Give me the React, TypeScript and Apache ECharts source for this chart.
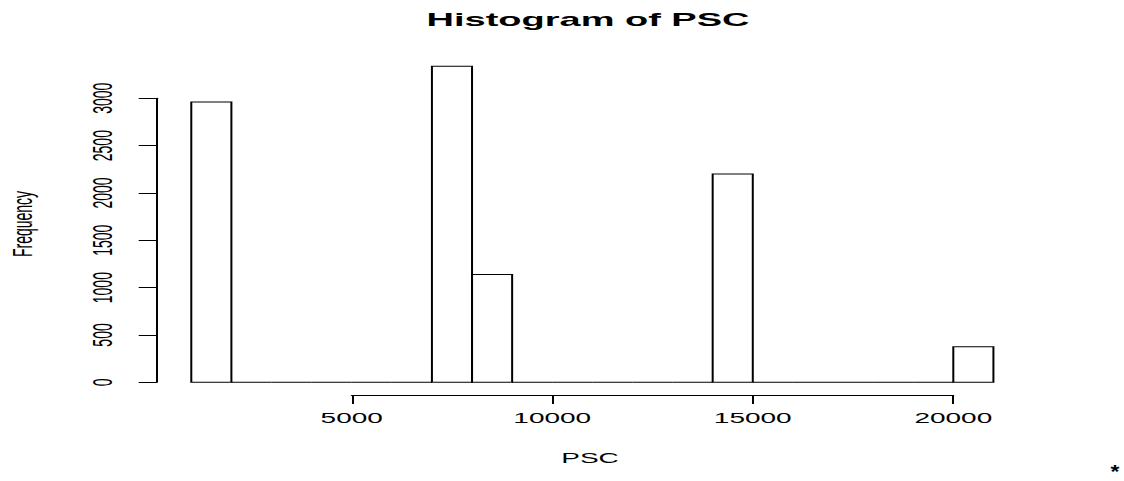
import React, { useEffect, useRef } from "react";
import * as echarts from "echarts";

// Histogram bin breaks (PSC) and counts per bin
const breaks = [1000, 2000, 3000, 4000, 5000, 6000, 7000, 8000, 9000, 10000, 11000, 12000, 13000, 14000, 15000, 16000, 17000, 18000, 19000, 20000, 21000];
const counts = [2960, 0, 0, 0, 0, 0, 3340, 1140, 0, 0, 0, 0, 0, 2200, 0, 0, 0, 0, 0, 375];
const xTicks = [5000, 10000, 15000, 20000];
const yTicks = [0, 500, 1000, 1500, 2000, 2500, 3000];
const titleText = "Histogram of PSC";
const xLabel = "PSC";
const yLabel = "Frequency";

const FONT = "'Liberation Sans', Arial, Helvetica, sans-serif";

export default function App() {
  const ref = useRef<HTMLDivElement>(null);
  useEffect(() => {
    if (!ref.current) return;
    const chart = echarts.init(ref.current, null, { renderer: "svg" });
    const maxCount = Math.max(...counts);
    const yPad = maxCount * 0.04;
    const xr = breaks[breaks.length - 1] - breaks[0];
    const xPad = xr * 0.04;
    const binData = counts.map((c, i) => [breaks[i], breaks[i + 1], c]);

    const option: any = {
      animation: false,
      backgroundColor: "#fff",
      grid: [
        { left: 79.6, right: 49.25, top: 53.5, bottom: 86 },
        { left: 78.35, width: 5, top: 98.3, bottom: 98.7 },
        { left: 175.85, right: 85.35, top: 385, bottom: 85.7 },
      ],
      xAxis: [
        { gridIndex: 0, type: "value", min: breaks[0] - xPad, max: breaks[breaks.length - 1] + xPad, show: false },
        { gridIndex: 1, type: "value", min: 0, max: 1, show: false },
        {
          gridIndex: 2,
          type: "value",
          min: xTicks[0],
          max: xTicks[xTicks.length - 1],
          interval: 5000,
          position: "bottom",
          axisLine: { show: true, lineStyle: { color: "#000", width: 1 } },
          axisTick: { show: true, inside: false, length: 8.7, lineStyle: { color: "#000", width: 1 } },
          axisLabel: {
            show: true,
            margin: 16,
            color: "#000",
            fontSize: 14,
            fontFamily: FONT,
            showMinLabel: true,
            showMaxLabel: true,
            formatter: (v: number) => String(v),
          },
          splitLine: { show: false },
        },
      ],
      yAxis: [
        { gridIndex: 0, type: "value", min: -yPad, max: maxCount + yPad, show: false },
        {
          gridIndex: 1,
          type: "value",
          min: yTicks[0],
          max: yTicks[yTicks.length - 1],
          interval: 500,
          position: "left",
          axisLine: { show: true, lineStyle: { color: "#000", width: 1 } },
          axisTick: { show: true, inside: false, length: 9, lineStyle: { color: "#000", width: 1 } },
          axisLabel: {
            show: true,
            rotate: 90,
            margin: 20,
            color: "#000",
            fontSize: 14,
            fontFamily: FONT,
            showMinLabel: true,
            showMaxLabel: true,
            formatter: (v: number) => String(v),
          },
          splitLine: { show: false },
        },
        { gridIndex: 2, type: "value", min: 0, max: 1, show: false },
      ],
      series: [
        {
          type: "custom",
          xAxisIndex: 0,
          yAxisIndex: 0,
          clip: false,
          encode: { x: [0, 1], y: 2 },
          data: binData,
          renderItem: (params: any, api: any) => {
            const x0 = api.value(0);
            const x1 = api.value(1);
            const c = api.value(2);
            const p0 = api.coord([x0, 0]);
            const p1 = api.coord([x1, c]);
            return {
              type: "polygon",
              shape: {
                points: [
                  [p0[0], p0[1]],
                  [p1[0], p0[1]],
                  [p1[0], p1[1]],
                  [p0[0], p1[1]],
                ],
              },
              style: { fill: "none", stroke: "#000", lineWidth: 1 },
            };
          },
        },
      ],
      graphic: [
        {
          type: "text",
          x: 294,
          y: 19,
          style: { text: titleText, fill: "#000", font: `bold 19px ${FONT}`, textAlign: "center", textVerticalAlign: "middle" },
        },
        {
          type: "text",
          x: 295,
          y: 458,
          style: { text: xLabel, fill: "#000", font: `14px ${FONT}`, textAlign: "center", textVerticalAlign: "middle" },
        },
        {
          type: "text",
          x: 11.3,
          y: 224,
          rotation: Math.PI / 2,
          style: { text: yLabel, fill: "#000", font: `14px ${FONT}`, textAlign: "center", textVerticalAlign: "middle" },
        },
        {
          type: "text",
          x: 557.5,
          y: 471,
          scaleX: 0.6,
          style: { text: "*", fill: "#000", font: `bold 19px ${FONT}`, textAlign: "center", textVerticalAlign: "middle" },
        },
      ],
    };
    chart.setOption(option);
    return () => chart.dispose();
  }, []);

  return (
    <div style={{ position: "fixed", left: 0, top: 0, width: 1124, height: 481, overflow: "hidden", background: "#fff" }}>
      <div
        ref={ref}
        style={{ width: 562, height: 481, transform: "scaleX(2)", transformOrigin: "0 0" }}
      />
    </div>
  );
}
